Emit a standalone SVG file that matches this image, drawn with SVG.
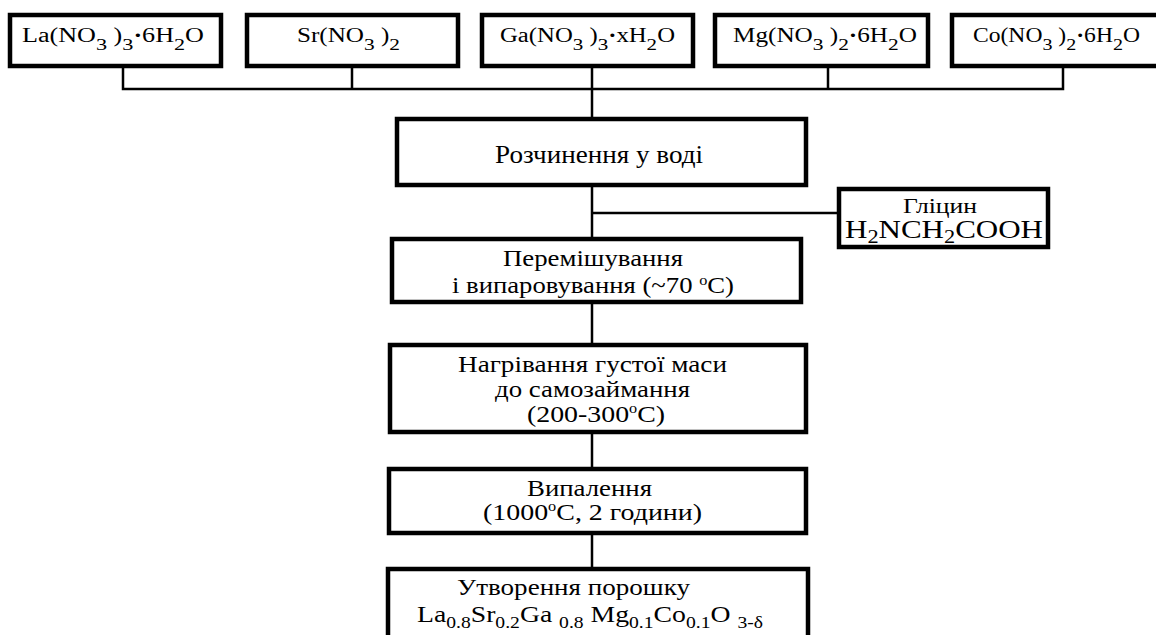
<svg xmlns="http://www.w3.org/2000/svg" width="1156" height="635" viewBox="0 0 1156 635">
<style>
.box{fill:#fff;stroke:#000;stroke-width:4.5}
.con{fill:none;stroke:#000;stroke-width:2.5}
text{font-family:"Liberation Serif","DejaVu Serif",serif;fill:#000}
.t{font-size:20px}
.s{font-size:17px}
.sup{font-size:14px}
</style>
<rect width="1156" height="635" fill="#fff"/>
<g id="connectors">
<path class="con" d="M123,68V89H1063V68M352,68V89M828,68V89M592,68V117"/>
<path class="con" d="M592,187V237M592,213H837M592,304V343M592,434V467M592,535V567"/>
</g>
<g id="la">
<rect class="box" x="10" y="15" width="211" height="51"/>
<text class="t" x="22" y="42" textLength="182" lengthAdjust="spacingAndGlyphs">La(NO<tspan class="s" dy="8">3</tspan><tspan dy="-8"> )</tspan><tspan class="s" dy="8">3</tspan><tspan dy="-8" font-weight="bold">·</tspan>6H<tspan class="s" dy="8">2</tspan><tspan dy="-8">O</tspan></text>
</g>
<g id="sr">
<rect class="box" x="247" y="15" width="211" height="51"/>
<text class="t" x="297" y="42" textLength="103" lengthAdjust="spacingAndGlyphs">Sr(NO<tspan class="s" dy="8">3</tspan><tspan dy="-8"> )</tspan><tspan class="s" dy="8">2</tspan></text>
</g>
<g id="ga">
<rect class="box" x="482" y="15" width="211" height="51"/>
<text class="t" x="500" y="42" textLength="175" lengthAdjust="spacingAndGlyphs">Ga(NO<tspan class="s" dy="8">3</tspan><tspan dy="-8"> )</tspan><tspan class="s" dy="8">3</tspan><tspan dy="-8" font-weight="bold">·</tspan>xH<tspan class="s" dy="8">2</tspan><tspan dy="-8">O</tspan></text>
</g>
<g id="mg">
<rect class="box" x="715" y="15" width="213" height="51"/>
<text class="t" x="733" y="42" textLength="184" lengthAdjust="spacingAndGlyphs">Mg(NO<tspan class="s" dy="8">3</tspan><tspan dy="-8"> )</tspan><tspan class="s" dy="8">2</tspan><tspan dy="-8" font-weight="bold">·</tspan>6H<tspan class="s" dy="8">2</tspan><tspan dy="-8">O</tspan></text>
</g>
<g id="co">
<rect class="box" x="952" y="15" width="220" height="51"/>
<text class="t" x="973" y="42" textLength="167" lengthAdjust="spacingAndGlyphs">Co(NO<tspan class="s" dy="8">3</tspan><tspan dy="-8"> )</tspan><tspan class="s" dy="8">2</tspan><tspan dy="-8" font-weight="bold">·</tspan>6H<tspan class="s" dy="8">2</tspan><tspan dy="-8">O</tspan></text>
</g>
<g id="dissolve">
<rect class="box" x="397" y="119" width="409" height="66"/>
<text x="495" y="163" font-size="26" textLength="208" lengthAdjust="spacingAndGlyphs">Розчинення у воді</text>
</g>
<g id="glycine">
<rect class="box" x="839" y="189" width="209" height="58"/>
<text x="903" y="213" font-size="22" textLength="74" lengthAdjust="spacingAndGlyphs">Гліцин</text>
<text x="845" y="238" font-size="25" textLength="198" lengthAdjust="spacingAndGlyphs">H<tspan font-size="18" dy="5">2</tspan><tspan dy="-5">NCH</tspan><tspan font-size="18" dy="5">2</tspan><tspan dy="-5">COOH</tspan></text>
</g>
<g id="mix">
<rect class="box" x="392" y="239" width="409" height="63"/>
<text x="503" y="266" font-size="23" textLength="180" lengthAdjust="spacingAndGlyphs">Перемішування</text>
<text x="452" y="293" font-size="23" textLength="282" lengthAdjust="spacingAndGlyphs">і випаровування (~70 <tspan class="sup" dy="-8">o</tspan><tspan dy="8">C)</tspan></text>
</g>
<g id="heat">
<rect class="box" x="390" y="345" width="416" height="87"/>
<text x="458" y="372" font-size="24" textLength="269" lengthAdjust="spacingAndGlyphs">Нагрівання густої маси</text>
<text x="495" y="397" font-size="24" textLength="195" lengthAdjust="spacingAndGlyphs">до самозаймання</text>
<text x="527" y="422" font-size="24" textLength="138" lengthAdjust="spacingAndGlyphs">(200-300<tspan class="sup" dy="-9">o</tspan><tspan dy="9">C)</tspan></text>
</g>
<g id="anneal">
<rect class="box" x="389" y="469" width="417" height="64"/>
<text x="527" y="496" font-size="24" textLength="125" lengthAdjust="spacingAndGlyphs">Випалення</text>
<text x="483" y="520" font-size="24" textLength="219" lengthAdjust="spacingAndGlyphs">(1000<tspan class="sup" dy="-9">o</tspan><tspan dy="9">C, 2 години)</tspan></text>
</g>
<g id="powder">
<rect class="box" x="388" y="569" width="420" height="80"/>
<text x="457" y="595" font-size="24" textLength="233" lengthAdjust="spacingAndGlyphs">Утворення порошку</text>
<text x="417" y="622" font-size="24" textLength="346" lengthAdjust="spacingAndGlyphs">La<tspan font-size="17" dy="6">0.8</tspan><tspan dy="-6">Sr</tspan><tspan font-size="17" dy="6">0.2</tspan><tspan dy="-6">Ga </tspan><tspan font-size="17" dy="6">0.8</tspan><tspan dy="-6"> Mg</tspan><tspan font-size="17" dy="6">0.1</tspan><tspan dy="-6">Co</tspan><tspan font-size="17" dy="6">0.1</tspan><tspan dy="-6">O </tspan><tspan font-size="17" dy="6">3-δ</tspan></text>
</g>
</svg>
